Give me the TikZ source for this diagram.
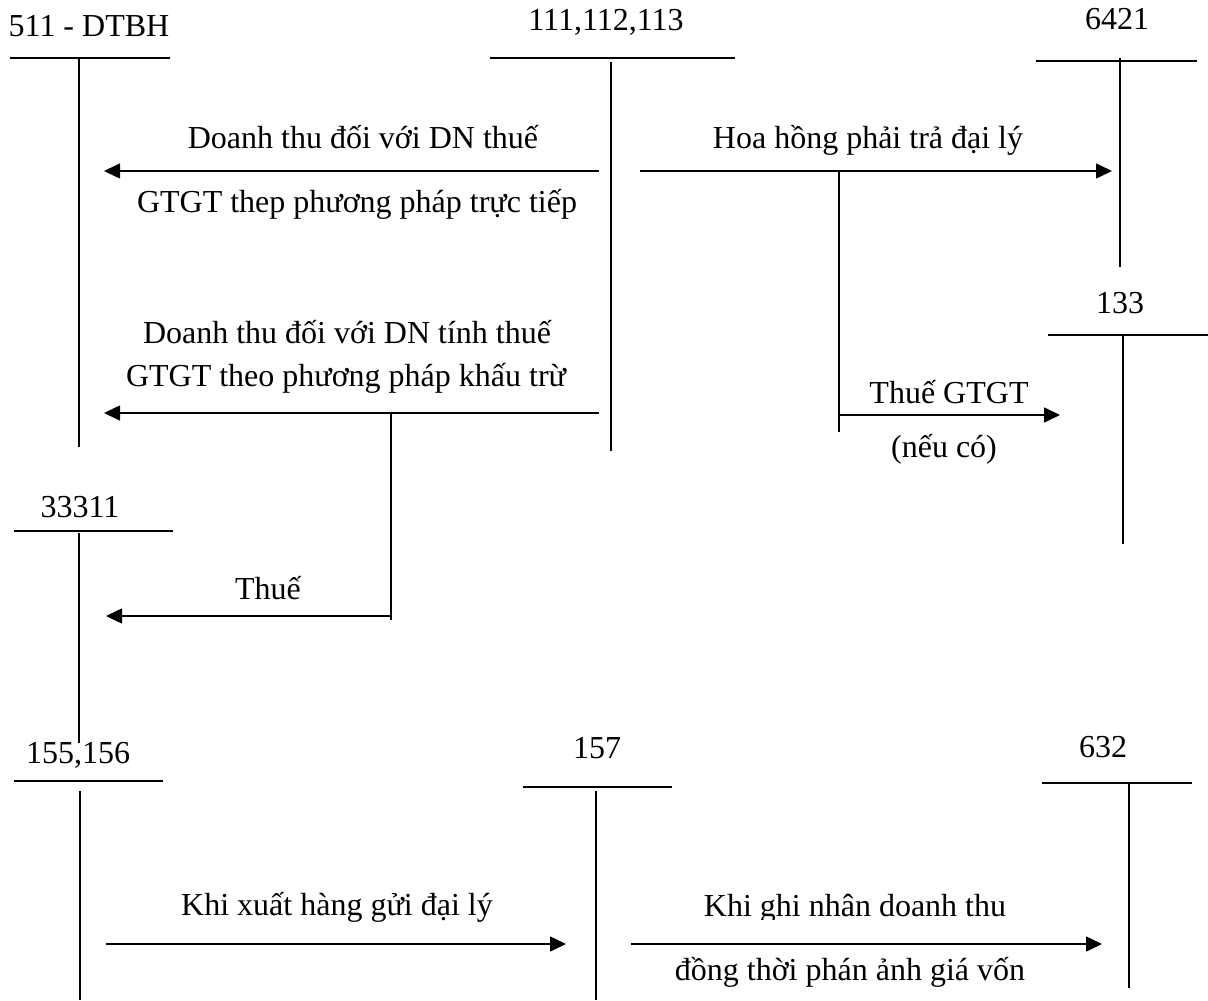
\documentclass[tikz,border=0pt]{standalone}
\usepackage{fontspec}
\setmainfont{Liberation Serif}
\usetikzlibrary{arrows.meta}
\begin{document}
\begin{tikzpicture}[x=0.5pt,y=-0.5pt,
  acct/.style={line width=0.75pt},
  flow/.style={line width=0.75pt,-{Triangle[length=8pt,width=7.5pt]}},
  lbl/.style={anchor=base,inner sep=0pt,font=\fontsize{16}{19}\selectfont}]
\path[use as bounding box] (0,0) rectangle (1208,1000);

% ---- account 511
\node[lbl] (n511) at (89,37) {511 - DTBH};
\coordinate (a511L) at (10,58); \coordinate (a511R) at (170,58);
\coordinate (a511T) at (79,58); \coordinate (a511B) at (79,447);
\draw[acct] (a511L) -- (a511R); \draw[acct] (a511T) -- (a511B);

% ---- account 111,112,113
\node[lbl] (n111) at (606,31) {111,112,113};
\coordinate (a111L) at (490,58); \coordinate (a111R) at (735,58);
\coordinate (a111T) at (611,62); \coordinate (a111B) at (611,451);
\draw[acct] (a111L) -- (a111R); \draw[acct] (a111T) -- (a111B);

% ---- account 6421
\node[lbl] (n6421) at (1117,30) {6421};
\coordinate (a6421L) at (1036,61); \coordinate (a6421R) at (1197,61);
\coordinate (a6421T) at (1120,58); \coordinate (a6421B) at (1120,267);
\draw[acct] (a6421L) -- (a6421R); \draw[acct] (a6421T) -- (a6421B);

% ---- account 133
\node[lbl] (n133) at (1120,313) {133};
\coordinate (a133L) at (1048,335); \coordinate (a133R) at (1208,335);
\coordinate (a133T) at (1123,335); \coordinate (a133B) at (1123,544);
\draw[acct] (a133L) -- (a133R); \draw[acct] (a133T) -- (a133B);

% ---- account 33311
\node[lbl] (n33311) at (80,517) {33311};
\coordinate (a333L) at (14,531); \coordinate (a333R) at (173,531);
\coordinate (a333T) at (79,533); \coordinate (a333B) at (79,743);
\draw[acct] (a333L) -- (a333R); \draw[acct] (a333T) -- (a333B);

% ---- account 155,156
\node[lbl] (n155) at (78,763) {155,156};
\coordinate (a155L) at (14,781); \coordinate (a155R) at (163,781);
\coordinate (a155T) at (80,791); \coordinate (a155B) at (80,1000);
\draw[acct] (a155L) -- (a155R); \draw[acct] (a155T) -- (a155B);

% ---- account 157
\node[lbl] (n157) at (597,758) {157};
\coordinate (a157L) at (523,787); \coordinate (a157R) at (672,787);
\coordinate (a157T) at (596,791); \coordinate (a157B) at (596,1000);
\draw[acct] (a157L) -- (a157R); \draw[acct] (a157T) -- (a157B);

% ---- account 632
\node[lbl] (n632) at (1103,757) {632};
\coordinate (a632L) at (1042,783); \coordinate (a632R) at (1192,783);
\coordinate (a632T) at (1129,783); \coordinate (a632B) at (1129,988);
\draw[acct] (a632L) -- (a632R); \draw[acct] (a632T) -- (a632B);

% ---- flow 1: 111 -> 511 (direct method)
\coordinate (f1s) at (599,171); \coordinate (f1e) at (104,171);
\draw[flow] (f1s) -- (f1e);
\node[lbl] (l1a) at (363,149) {Doanh thu đối với DN thuế};
\node[lbl] (l1b) at (357,213) {GTGT thep phương pháp trực tiếp};

% ---- flow 2: 111 -> 6421
\coordinate (f2s) at (640,171); \coordinate (f2e) at (1112,171);
\draw[flow] (f2s) -- (f2e);
\node[lbl] (l2a) at (868,149) {Hoa hồng phải trả đại lý};

% ---- branch to 133
\coordinate (b2t) at (839,171); \coordinate (b2b) at (839,432);
\draw[acct] (b2t) -- (b2b);
\coordinate (f3s) at (839,415); \coordinate (f3e) at (1060,415);
\draw[flow] (f3s) -- (f3e);
\node[lbl] (l3a) at (949,403) {Thuế GTGT};
\node[lbl] (l3b) at (944,457) {(nếu có)};

% ---- flow 4: 111 -> 511 (deduction method)
\coordinate (f4s) at (599,413); \coordinate (f4e) at (104,413);
\draw[flow] (f4s) -- (f4e);
\node[lbl] (l4a) at (347,343) {Doanh thu đối với DN tính thuế};
\node[lbl] (l4b) at (346,386) {GTGT theo phương pháp khấu trừ};

% ---- branch to 33311
\coordinate (b4t) at (391,413); \coordinate (b4b) at (391,620);
\draw[acct] (b4t) -- (b4b);
\coordinate (f5s) at (391,616); \coordinate (f5e) at (106,616);
\draw[flow] (f5s) -- (f5e);
\node[lbl] (l5) at (268,599) {Thuế};

% ---- flow 6: 155 -> 157
\coordinate (f6s) at (106,944); \coordinate (f6e) at (566,944);
\draw[flow] (f6s) -- (f6e);
\node[lbl] (l6) at (337,915) {Khi xuất hàng gửi đại lý};

% ---- flow 7: 157 -> 632
\coordinate (f7s) at (631,944); \coordinate (f7e) at (1102,944);
\draw[flow] (f7s) -- (f7e);
\begin{scope}
\clip (640,870) rectangle (1080,919);
\node[lbl] (l7a) at (855,916) {Khi ghi nhân doanh thu};
\end{scope}
\node[lbl] (l7b) at (850,980) {đồng thời phán ảnh giá vốn};
\end{tikzpicture}
\end{document}
